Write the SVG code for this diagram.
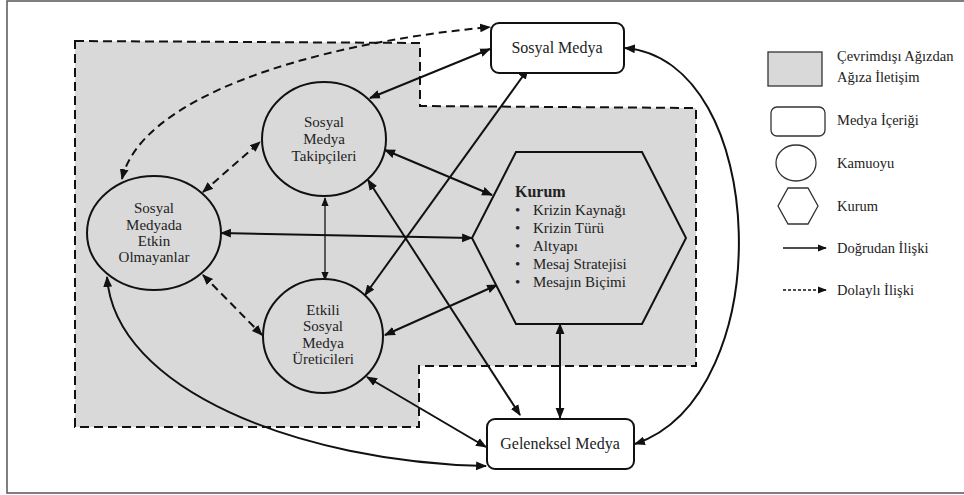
<svg xmlns="http://www.w3.org/2000/svg" width="964" height="495" viewBox="0 0 964 495" font-family="'Liberation Serif', 'DejaVu Serif', serif">
<style>
text{font-family:'Liberation Serif','Times New Roman','DejaVu Serif',serif;fill:#222;font-size:15px}
.c{text-anchor:middle}
.node{fill:#fff;stroke:#111;stroke-width:2}
.pub{fill:#d9d9d9;stroke:#111;stroke-width:2}
.ln{fill:none;stroke:#111;stroke-width:2}
.th{stroke-width:1.3}
.ds{stroke-dasharray:8,5}
.lg{font-size:14.5px}
</style>
<defs>
<marker id="ah" viewBox="0 0 10 10" refX="9" refY="5" markerWidth="5.5" markerHeight="5.5" orient="auto-start-reverse" markerUnits="strokeWidth">
<path d="M0,1 L10,5 L0,9 z" fill="#111"/>
</marker>
<marker id="ah2" viewBox="0 0 10 10" refX="9" refY="5" markerWidth="7" markerHeight="7" orient="auto-start-reverse" markerUnits="strokeWidth">
<path d="M0,1 L10,5 L0,9 z" fill="#111"/>
</marker>
</defs>
<rect x="7" y="1" width="970" height="492" fill="#fff" stroke="#555" stroke-width="1.5"/>
<g id="offline-region">
<path d="M75,41 L420,43 L420,106 L696,108 L696,366 L419,366 L419,427 L75,427 Z" fill="#d9d9d9" stroke="#111" stroke-width="2" stroke-dasharray="9,5"/>
</g>
<g id="connectors">
<path class="ln ds" d="M122,179 C140,100 300,45 490,27" marker-start="url(#ah)" marker-end="url(#ah)"/>
<path class="ln ds" d="M203,192 L260,142" marker-start="url(#ah)" marker-end="url(#ah)"/>
<path class="ln ds" d="M203,275 L262,335" marker-start="url(#ah)" marker-end="url(#ah)"/>
<path class="ln" d="M370,98 L490,49" marker-start="url(#ah)" marker-end="url(#ah)"/>
<path class="ln th" d="M325,198 L325,280" marker-start="url(#ah2)" marker-end="url(#ah2)"/>
<path class="ln" d="M385,150 L492,195" marker-start="url(#ah)" marker-end="url(#ah)"/>
<path class="ln" d="M221,233 L472,238" marker-start="url(#ah)" marker-end="url(#ah)"/>
<path class="ln" d="M368,180 L520,415" marker-start="url(#ah)" marker-end="url(#ah)"/>
<path class="ln" d="M365,295 L528,69" marker-start="url(#ah)" marker-end="url(#ah)"/>
<path class="ln" d="M385,335 L497,285" marker-start="url(#ah)" marker-end="url(#ah)"/>
<path class="ln" d="M367,377 L486,447" marker-start="url(#ah)" marker-end="url(#ah)"/>
<path class="ln" d="M560,324 L560,418" marker-start="url(#ah)" marker-end="url(#ah)"/>
<path class="ln" d="M107,277 C115,390 300,462 486,466" marker-start="url(#ah)" marker-end="url(#ah)"/>
<path class="ln" d="M625,48 C770,60 780,395 635,444" marker-start="url(#ah)" marker-end="url(#ah)"/>
</g>
<g id="sosyal-medya">
<rect class="node" x="491" y="23" width="133" height="50" rx="8"/>
<text class="c" x="557" y="53" style="font-size:16px">Sosyal Medya</text>
</g>
<g id="geleneksel-medya">
<rect class="node" x="487" y="419" width="147" height="50" rx="8"/>
<text class="c" x="560" y="449" style="font-size:16px">Geleneksel Medya</text>
</g>
<g id="takipciler">
<ellipse class="pub" cx="324" cy="139" rx="62" ry="57"/>
<text class="c" x="324" y="127">Sosyal</text>
<text class="c" x="324" y="144">Medya</text>
<text class="c" x="324" y="161">Takipçileri</text>
</g>
<g id="etkin-olmayanlar">
<ellipse class="pub" cx="154" cy="233" rx="67" ry="57"/>
<text class="c" x="154" y="213">Sosyal</text>
<text class="c" x="154" y="230">Medyada</text>
<text class="c" x="154" y="246">Etkin</text>
<text class="c" x="154" y="262">Olmayanlar</text>
</g>
<g id="ureticiler">
<ellipse class="pub" cx="323" cy="336" rx="60" ry="57"/>
<text class="c" x="323" y="315">Etkili</text>
<text class="c" x="323" y="331">Sosyal</text>
<text class="c" x="323" y="348">Medya</text>
<text class="c" x="323" y="364">Üreticileri</text>
</g>
<g id="kurum">
<polygon class="pub" points="516,152 642,152 686,238 642,324 516,324 472,238"/>
<text x="515" y="197" style="font-weight:bold;font-size:16px">Kurum</text>
<g style="font-size:16px">
<text x="515" y="215">•</text><text x="533" y="215">Krizin Kaynağı</text>
<text x="515" y="233">•</text><text x="533" y="233">Krizin Türü</text>
<text x="515" y="251">•</text><text x="533" y="251">Altyapı</text>
<text x="515" y="269">•</text><text x="533" y="269">Mesaj Stratejisi</text>
<text x="515" y="287">•</text><text x="533" y="287">Mesajın Biçimi</text>
</g>
</g>
<g id="legend">
<rect x="768" y="52" width="54" height="34" fill="#d9d9d9" stroke="#333" stroke-width="1.3"/>
<text class="lg" x="837" y="61">Çevrimdışı Ağızdan</text>
<text class="lg" x="837" y="82">Ağıza İletişim</text>
<rect x="771" y="107" width="54" height="29" rx="6" fill="#fff" stroke="#333" stroke-width="1.3"/>
<text class="lg" x="837" y="125">Medya İçeriği</text>
<ellipse cx="796" cy="163" rx="20" ry="18" fill="#fff" stroke="#333" stroke-width="1.3"/>
<text class="lg" x="837" y="168">Kamuoyu</text>
<polygon points="788,188 808,188 818,206 808,224 788,224 778,206" fill="#fff" stroke="#333" stroke-width="1.3"/>
<text class="lg" x="837" y="211">Kurum</text>
<line x1="783" y1="248" x2="826" y2="248" stroke="#111" stroke-width="1.3" marker-end="url(#ah2)"/>
<text class="lg" x="837" y="253">Doğrudan İlişki</text>
<line x1="783" y1="290" x2="826" y2="290" stroke="#111" stroke-width="1.3" stroke-dasharray="3,2" marker-end="url(#ah2)"/>
<text class="lg" x="837" y="295">Dolaylı İlişki</text>
</g>
</svg>
